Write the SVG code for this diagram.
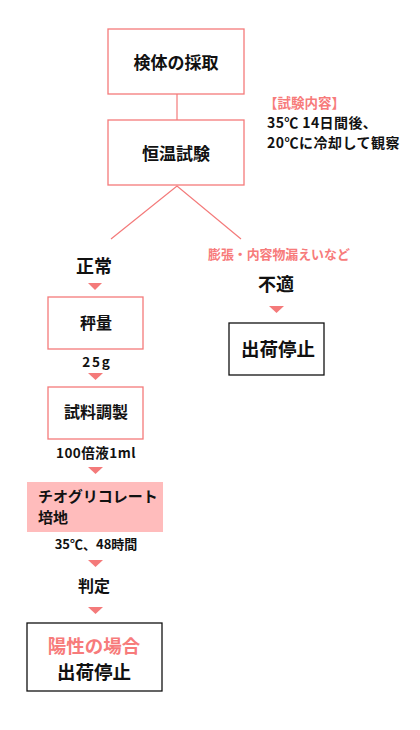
<svg xmlns="http://www.w3.org/2000/svg" width="420" height="730" viewBox="0 0 420 730">
<style>
text{font-family:"Noto Sans CJK JP","Liberation Sans",sans-serif;font-weight:bold;fill:#111}
.pk{fill:#f77b7b}
.pbox{fill:#fff;stroke:#f47a7a;stroke-width:1.3}
.kbox{fill:#fff;stroke:#111;stroke-width:1.3}
.ln{stroke:#f47a7a;stroke-width:1.2;fill:none}
.tri{fill:#f47a7a}
.c{text-anchor:middle}
</style>
<rect width="420" height="730" fill="#fff"/>
<g id="connectors">
<line class="ln" x1="177" y1="94" x2="177" y2="120"/>
<polyline class="ln" points="111,239 177,186 241,239"/>
<polygon class="tri" points="88,283 102,283 95,290"/>
<polygon class="tri" points="269,306 284,306 276.5,313"/>
<polygon class="tri" points="88,373 103,373 95.5,380"/>
<polygon class="tri" points="88,467 103,467 95.5,474"/>
<polygon class="tri" points="88,560 103,560 95.5,567"/>
<polygon class="tri" points="88,607 103,607 95.5,614"/>
</g>
<g id="n1"><rect class="pbox" x="108" y="29" width="136" height="65"/><text class="c" x="176" y="69" font-size="17">検体の採取</text></g>
<g id="n2"><rect class="pbox" x="108" y="120" width="136" height="65"/><text class="c" x="176" y="160" font-size="17">恒温試験</text></g>
<g id="note"><text class="pk" x="264" y="108" font-size="13.5">【試験内容】</text>
<text x="267" y="128" font-size="14" letter-spacing="0.4">35℃ 14日間後、</text>
<text x="267" y="148" font-size="14" letter-spacing="0.5">20℃に冷却して観察</text></g>
<g id="lbl-ng"><text class="pk" x="208" y="259" font-size="12.9">膨張・内容物漏えいなど</text></g>
<g id="n-normal"><text class="c" x="94" y="273" font-size="18">正常</text></g>
<g id="n-bad"><text class="c" x="276" y="291" font-size="18">不適</text></g>
<g id="n-weigh"><rect class="pbox" x="48" y="297" width="95" height="52"/><text class="c" x="96" y="329" font-size="16">秤量</text></g>
<g id="l-25"><text class="c" x="97" y="367" font-size="13.5" letter-spacing="1.8">25g</text></g>
<g id="n-stop1"><rect class="kbox" x="229" y="323" width="95" height="52"/><text class="c" x="278" y="356" font-size="18.5">出荷停止</text></g>
<g id="n-prep"><rect class="pbox" x="48" y="387" width="95" height="52"/><text class="c" x="96" y="418" font-size="16">試料調製</text></g>
<g id="l-100"><text class="c" x="96" y="458" font-size="13.5" letter-spacing="0.5">100倍液1ml</text></g>
<g id="n-thio"><rect x="27" y="482" width="136" height="50" fill="#ffbcbc"/><text x="38" y="502" font-size="15">チオグリコレート</text><text x="38" y="523" font-size="15">培地</text></g>
<g id="l-35"><text class="c" x="96" y="549" font-size="13">35℃、48時間</text></g>
<g id="n-judge"><text class="c" x="94" y="592" font-size="16">判定</text></g>
<g id="n-stop2"><rect class="kbox" x="27" y="623" width="135" height="68"/><text class="c pk" x="94" y="653" font-size="18.5">陽性の場合</text><text class="c" x="94" y="679" font-size="18.5">出荷停止</text></g>
</svg>
